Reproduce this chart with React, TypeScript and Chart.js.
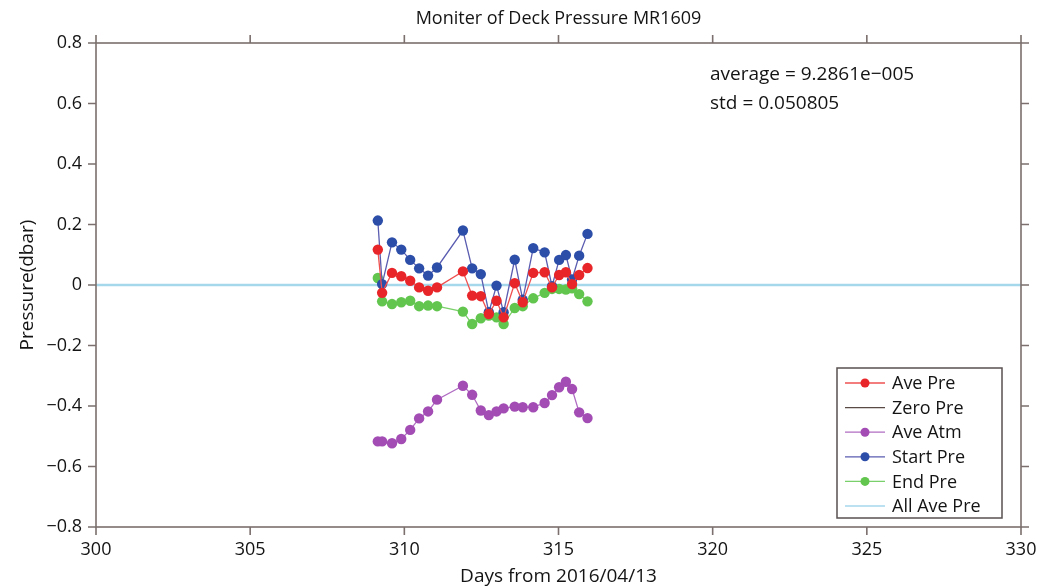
import { useEffect, useRef } from "react";
import { Chart, registerables } from "chart.js";

Chart.register(...registerables);

// Sampling days (days from 2016/04/13)
const days = [
  309.14, 309.28, 309.6, 309.9, 310.19, 310.48, 310.77, 311.06, 311.9, 312.2, 312.48, 312.74,
  312.99, 313.22, 313.58, 313.84, 314.18, 314.55, 314.79, 315.02, 315.24, 315.44, 315.67, 315.94,
];

const avePre = [
  0.117, -0.026, 0.04, 0.029, 0.014, -0.008, -0.019, -0.008, 0.045, -0.035, -0.037, -0.096,
  -0.052, -0.107, 0.006, -0.057, 0.04, 0.042, -0.008, 0.033, 0.042, 0.003, 0.033, 0.056,
];

const aveAtm = [
  -0.517, -0.517, -0.523, -0.509, -0.479, -0.441, -0.418, -0.379, -0.333, -0.363, -0.415, -0.43,
  -0.418, -0.408, -0.402, -0.404, -0.404, -0.39, -0.364, -0.338, -0.32, -0.344, -0.421, -0.44,
];

const startPre = [
  0.213, 0.003, 0.141, 0.117, 0.083, 0.055, 0.031, 0.058, 0.18, 0.055, 0.036, -0.09,
  -0.002, -0.09, 0.084, -0.049, 0.122, 0.108, -0.004, 0.083, 0.099, 0.018, 0.097, 0.169,
];

const endPre = [
  0.023, -0.054, -0.063, -0.057, -0.052, -0.07, -0.068, -0.07, -0.088, -0.129, -0.11, -0.101,
  -0.107, -0.129, -0.076, -0.07, -0.044, -0.026, -0.013, -0.013, -0.015, -0.011, -0.03, -0.054,
];

const dayRange = [300, 330];
const zeroPre = [0, 0];
const allAvePre = [9.2861e-5, 9.2861e-5];

const xTickValues = [300, 305, 310, 315, 320, 325, 330];
const yTickValues = [-0.8, -0.6, -0.4, -0.2, 0, 0.2, 0.4, 0.6, 0.8];

const titleText = "Moniter of Deck Pressure MR1609";
const xLabel = "Days from 2016/04/13";
const yLabel = "Pressure(dbar)";
const statLines = ["average = 9.2861e\u2212005", "std = 0.050805"];

const FONT = "'Open Sans', 'Noto Sans', sans-serif";
const FRAME = "#7b706d";
const TEXT = "#141414";

const pts = (xs: number[], ys: number[]) => xs.map((x, i) => ({ x, y: ys[i] }));

const fmtY = (v: number) => {
  const r = Math.round(v * 10) / 10;
  if (r === 0) return "0";
  return (r < 0 ? "\u2212" : "") + Math.abs(r).toFixed(1);
};

// Box frame with outward ticks on all four sides, title, stats text and legend
const decorPlugin = {
  id: "decor",
  afterDraw(chart: any) {
    const { ctx, chartArea } = chart;
    const { left, right, top, bottom } = chartArea;
    const xs = chart.scales.x;
    const ys = chart.scales.y;
    const tl = 8;
    ctx.save();
    ctx.strokeStyle = FRAME;
    ctx.lineWidth = 1.6;
    ctx.strokeRect(left, top, right - left, bottom - top);
    ctx.beginPath();
    xTickValues.forEach((v) => {
      const px = xs.getPixelForValue(v);
      ctx.moveTo(px, bottom);
      ctx.lineTo(px, bottom + tl);
      ctx.moveTo(px, top);
      ctx.lineTo(px, top - tl);
    });
    yTickValues.forEach((v) => {
      const py = ys.getPixelForValue(v);
      ctx.moveTo(left, py);
      ctx.lineTo(left - tl, py);
      ctx.moveTo(right, py);
      ctx.lineTo(right + tl, py);
    });
    ctx.stroke();

    // title
    ctx.fillStyle = TEXT;
    ctx.font = `18px ${FONT}`;
    ctx.textAlign = "center";
    ctx.textBaseline = "middle";
    ctx.fillText(titleText, (left + right) / 2, 19);

    // statistics
    ctx.font = `19px ${FONT}`;
    ctx.textAlign = "left";
    ctx.fillText(statLines[0], 710, 75);
    ctx.fillText(statLines[1], 710, 104);

    // legend
    const bx = 837, by = 368, bw = 165, bh = 150;
    ctx.fillStyle = "#ffffff";
    ctx.fillRect(bx, by, bw, bh);
    ctx.strokeStyle = "#5a5050";
    ctx.lineWidth = 1.5;
    ctx.strokeRect(bx, by, bw, bh);
    ctx.font = `18px ${FONT}`;
    chart.data.datasets.forEach((ds: any, i: number) => {
      const cy = by + 15 + i * 24.6;
      ctx.strokeStyle = ds.borderColor;
      ctx.lineWidth = Math.min(ds.borderWidth, 1.6);
      ctx.beginPath();
      ctx.moveTo(bx + 8, cy);
      ctx.lineTo(bx + 48, cy);
      ctx.stroke();
      if (ds.pointRadius > 0) {
        ctx.fillStyle = ds.pointBackgroundColor;
        ctx.beginPath();
        ctx.arc(bx + 28, cy, 4.5, 0, Math.PI * 2);
        ctx.fill();
      }
      ctx.fillStyle = TEXT;
      ctx.textAlign = "left";
      ctx.textBaseline = "middle";
      ctx.fillText(ds.label, bx + 55, cy + 1);
    });
    ctx.restore();
  },
};

export default function App() {
  const ref = useRef<HTMLCanvasElement | null>(null);

  useEffect(() => {
    document.body.style.margin = "0";
    const canvas = ref.current;
    if (!canvas) return;

    const series = (label: string, data: any[], line: string, point: string, order: number) => ({
      label,
      data,
      borderColor: line,
      borderWidth: 1.3,
      pointRadius: 5.2,
      pointBackgroundColor: point,
      pointBorderWidth: 0,
      pointBorderColor: point,
      showLine: true,
      order,
    });

    const chart = new Chart(canvas, {
      type: "scatter",
      data: {
        datasets: [
          series("Ave Pre", pts(days, avePre), "#ef5050", "#e8262a", 1),
          {
            label: "Zero Pre",
            data: pts(dayRange, zeroPre),
            borderColor: "#5a4a46",
            borderWidth: 1.3,
            pointRadius: 0,
            showLine: true,
            order: 6,
          },
          series("Ave Atm", pts(days, aveAtm), "#b06cc2", "#a24cb4", 4),
          series("Start Pre", pts(days, startPre), "#5a5cb0", "#2c4ea8", 2),
          series("End Pre", pts(days, endPre), "#7ad06a", "#62c64e", 3),
          {
            label: "All Ave Pre",
            data: pts(dayRange, allAvePre),
            borderColor: "#a6d8ec",
            borderWidth: 2.4,
            pointRadius: 0,
            showLine: true,
            order: 5,
          },
        ] as any,
      },
      options: {
        animation: false,
        responsive: false,
        layout: { padding: { top: 43, right: 17, left: 0, bottom: 0 } },
        plugins: {
          legend: { display: false },
          tooltip: { enabled: false },
          title: { display: false },
        },
        scales: {
          x: {
            type: "linear",
            min: 300,
            max: 330,
            afterFit: (s: any) => {
              s.height = 61;
              s.paddingLeft = 0;
              s.paddingRight = 0;
            },
            afterBuildTicks: (s: any) => {
              s.ticks = xTickValues.map((v) => ({ value: v }));
            },
            grid: { display: false, drawTicks: false },
            border: { display: false },
            ticks: {
              padding: 12,
              color: TEXT,
              font: { family: FONT, size: 18 },
              callback: (v: any) => String(v),
            },
            title: {
              display: true,
              text: xLabel,
              color: TEXT,
              font: { family: FONT, size: 19 },
              padding: { top: 0, bottom: 0 },
            },
          },
          y: {
            type: "linear",
            min: -0.8,
            max: 0.8,
            afterFit: (s: any) => {
              s.width = 96;
              s.paddingTop = 0;
              s.paddingBottom = 0;
            },
            afterBuildTicks: (s: any) => {
              s.ticks = yTickValues.map((v) => ({ value: v }));
            },
            grid: { display: false, drawTicks: false },
            border: { display: false },
            ticks: {
              padding: 14,
              color: TEXT,
              font: { family: FONT, size: 18 },
              callback: (v: any) => fmtY(Number(v)),
            },
            title: {
              display: true,
              text: yLabel,
              color: TEXT,
              font: { family: FONT, size: 19 },
              padding: { top: 16, bottom: 0 },
            },
          },
        },
      } as any,
      plugins: [decorPlugin],
    });

    return () => chart.destroy();
  }, []);

  return (
    <div style={{ width: 1038, height: 588, background: "#fff" }}>
      <canvas ref={ref} width={1038} height={588} style={{ display: "block" }} />
    </div>
  );
}
